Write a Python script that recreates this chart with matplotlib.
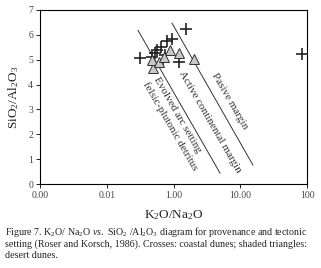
import matplotlib
matplotlib.use("Agg")
import matplotlib.pyplot as plt

plt.rcParams['font.family'] = ['Liberation Serif', 'DejaVu Serif']
plt.rcParams['mathtext.fontset'] = 'custom'
plt.rcParams['mathtext.rm'] = 'Liberation Serif'
plt.rcParams['mathtext.it'] = 'Liberation Serif:italic'

# coastal dunes (crosses)
coastal_k2o_na2o = [0.32, 1.52, 85, 0.95, 0.80, 0.66, 0.57, 0.53, 0.75, 1.20, 0.69, 0.48]
coastal_sio2_al2o3 = [5.07, 6.25, 5.22, 5.85, 5.74, 5.51, 5.38, 5.25, 5.18, 4.91, 4.89, 5.11]

# desert dunes (shaded triangles)
desert_k2o_na2o = [0.50, 0.48, 0.61, 0.90, 1.20, 2.01, 0.71]
desert_sio2_al2o3 = [4.65, 4.98, 4.89, 5.38, 5.25, 5.02, 5.11]

# discriminant boundaries (Roser and Korsch, 1986)
line1_x = [0.294, 4.98]
line1_y = [6.18, 0.44]
line2_x = [0.95, 15.5]
line2_y = [6.47, 0.76]

xticks = [0.01, 0.1, 1, 10, 100]
xtick_labels = ['0.00', '0.01', '1.00', '10.00', '100']
yticks = [0, 1, 2, 3, 4, 5, 6, 7]

fig = plt.figure(figsize=(3.21, 2.68), dpi=100)
ax = fig.add_axes([0.1246, 0.3134, 0.8318, 0.6493])

ax.plot(line1_x, line1_y, color='#333333', lw=0.7)
ax.plot(line2_x, line2_y, color='#333333', lw=0.7)

ax.plot(coastal_k2o_na2o, coastal_sio2_al2o3, '+', color='#222222',
        markersize=8, markeredgewidth=1.2, zorder=3)
ax.plot(desert_k2o_na2o, desert_sio2_al2o3, '^', markerfacecolor='#c8c8c8',
        markeredgecolor='#333333', markersize=7, markeredgewidth=0.7, zorder=4)

lab = dict(rotation=-60, rotation_mode='anchor', ha='center', va='center',
           fontsize=8, color='#333333')
ax.text(1.13, 2.77, 'Evolved arc setting', **lab)
ax.text(0.89, 2.33, 'felsic-plutonic detritus', **lab)
ax.text(3.52, 2.49, 'Active continental margin', **lab)
ax.text(7.0, 3.33, 'Pasive margin', **lab)

ax.set_xscale('log')
ax.set_xlim(0.01, 100)
ax.set_ylim(0, 7)
ax.set_xticks(xticks)
ax.set_xticklabels(xtick_labels)
ax.minorticks_off()
ax.set_yticks(yticks)
ax.tick_params(labelsize=7, length=3, width=0.6, labelcolor='#444444', pad=2)
for s in ax.spines.values():
    s.set_linewidth(0.8)

ax.set_xlabel('K$_2$O/Na$_2$O', fontsize=9.5, labelpad=6, color='#222222')
ax.set_ylabel('SiO$_2$/Al$_2$O$_3$', fontsize=9.5, labelpad=5, color='#222222')

cap = dict(fontsize=7.2, color='#222222', ha='left', va='center')
fig.text(0.015, 1 - 232 / 268,
         'Figure 7. K$_2$O/ Na$_2$O $\\it{vs.}$ SiO$_2$ /Al$_2$O$_3$ diagram for provenance and tectonic',
         **cap)
fig.text(0.015, 1 - 244.5 / 268,
         'setting (Roser and Korsch, 1986). Crosses: coastal dunes; shaded triangles:',
         **cap)
fig.text(0.015, 1 - 255.5 / 268, 'desert dunes.', **cap)

fig.savefig('out.png', dpi=100)
